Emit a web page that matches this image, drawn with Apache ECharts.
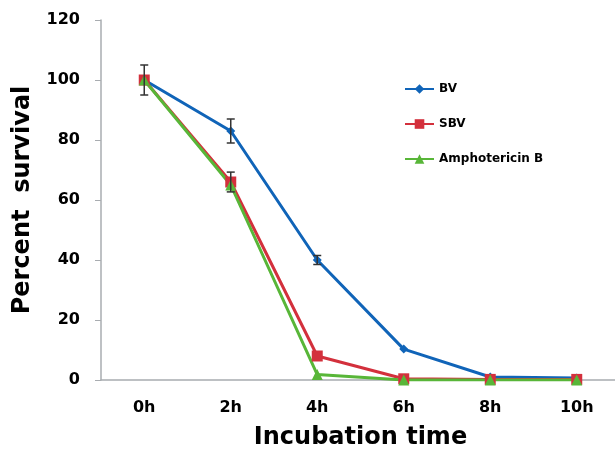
<!DOCTYPE html>
<html>
<head>
<meta charset="utf-8">
<script src="https://cdn.jsdelivr.net/npm/echarts@6/dist/echarts.min.js"></script>
<style>
    html, body { margin: 0; padding: 0; background: #fff; }
    #chart { width: 615px; height: 450px; }
</style>
</head>
<body>
<div id="chart"></div>
<script>
// data
var hours = ['0h', '2h', '4h', '6h', '8h', '10h'];
var bv = [100, 83, 40, 10.3, 1, 0.7];
var sbv = [100, 66, 8, 0.4, 0.2, 0.2];
var ampho = [100, 65, 1.8, 0, 0, 0];
var bvErr = [5, 4, 1.5, 0, 0, 0];
var sbvErr = [0, 3.3, 0, 0, 0, 0];
var yTicks = [0, 20, 40, 60, 80, 100, 120];

var fontName = 'DejaVu Sans';

// error bar rows: [category index, value, error]
var errRows = [];
for (var i = 0; i < hours.length; i++) {
    if (bvErr[i] > 0) errRows.push([i, bv[i], bvErr[i]]);
    if (sbvErr[i] > 0) errRows.push([i, sbv[i], sbvErr[i]]);
}

function renderErr(params, api) {
    var x = api.value(0);
    var top = api.coord([x, api.value(1) + api.value(2)]);
    var bot = api.coord([x, api.value(1) - api.value(2)]);
    var cap = 4;
    var st = { stroke: '#333', lineWidth: 1.5 };
    return {
        type: 'group',
        children: [
            { type: 'line', shape: { x1: top[0], y1: top[1], x2: bot[0], y2: bot[1] }, style: st },
            { type: 'line', shape: { x1: top[0] - cap, y1: top[1], x2: top[0] + cap, y2: top[1] }, style: st },
            { type: 'line', shape: { x1: bot[0] - cap, y1: bot[1], x2: bot[0] + cap, y2: bot[1] }, style: st }
        ]
    };
}

var chart = echarts.init(document.getElementById('chart'));
chart.setOption({
    animation: false,
    grid: { left: 101, right: -5, top: 20, bottom: 70, outerBoundsMode: 'none', containLabel: false },
    legend: {
        orient: 'vertical',
        left: 404,
        top: 83,
        padding: 0,
        itemWidth: 29,
        itemHeight: 12,
        itemGap: 23,
        data: ['BV', 'SBV', 'Amphotericin B'],
        textStyle: { fontFamily: fontName, fontWeight: 'bold', fontSize: 12, color: '#000' }
    },
    xAxis: {
        type: 'category',
        data: hours,
        boundaryGap: true,
        name: 'Incubation time',
        nameLocation: 'middle',
        nameGap: 46,
        nameTextStyle: { fontFamily: fontName, fontWeight: 'bold', fontSize: 24, color: '#000' },
        axisLine: { lineStyle: { color: '#a8acb0', width: 1.5 } },
        axisTick: { length: 5, lineStyle: { color: '#a8acb0' } },
        axisLabel: { margin: 20, fontFamily: fontName, fontWeight: 'bold', fontSize: 16, color: '#000' }
    },
    yAxis: {
        type: 'value',
        min: 0,
        max: 120,
        interval: 20,
        name: 'Percent  survival',
        nameLocation: 'middle',
        nameGap: 66,
        nameTextStyle: { fontFamily: fontName, fontWeight: 'bold', fontSize: 24, color: '#000' },
        axisLine: { show: true, lineStyle: { color: '#a8acb0', width: 1.5 } },
        axisTick: { show: true, length: 6, lineStyle: { color: '#a8acb0' } },
        splitLine: { show: false },
        axisLabel: {
            margin: 21, fontFamily: fontName, fontWeight: 'bold', fontSize: 16, color: '#000',
            formatter: function (v) { return yTicks.indexOf(v) >= 0 ? String(v) : ''; }
        }
    },
    series: [
        {
            name: 'BV', type: 'line', data: bv,
            symbol: 'diamond', symbolSize: 9,
            itemStyle: { color: '#1064b8' },
            lineStyle: { color: '#1064b8', width: 3 }
        },
        {
            name: 'SBV', type: 'line', data: sbv,
            symbol: 'rect', symbolSize: 11,
            itemStyle: { color: '#d3303c' },
            lineStyle: { color: '#d3303c', width: 3 }
        },
        {
            name: 'Amphotericin B', type: 'line', data: ampho,
            symbol: 'triangle', symbolSize: 11,
            itemStyle: { color: '#58b638' },
            lineStyle: { color: '#58b638', width: 3 }
        },
        {
            type: 'custom', name: 'err', data: errRows,
            renderItem: renderErr, z: 10, silent: true,
            encode: { x: 0, y: 1 }
        }
    ]
});
</script>
</body>
</html>
